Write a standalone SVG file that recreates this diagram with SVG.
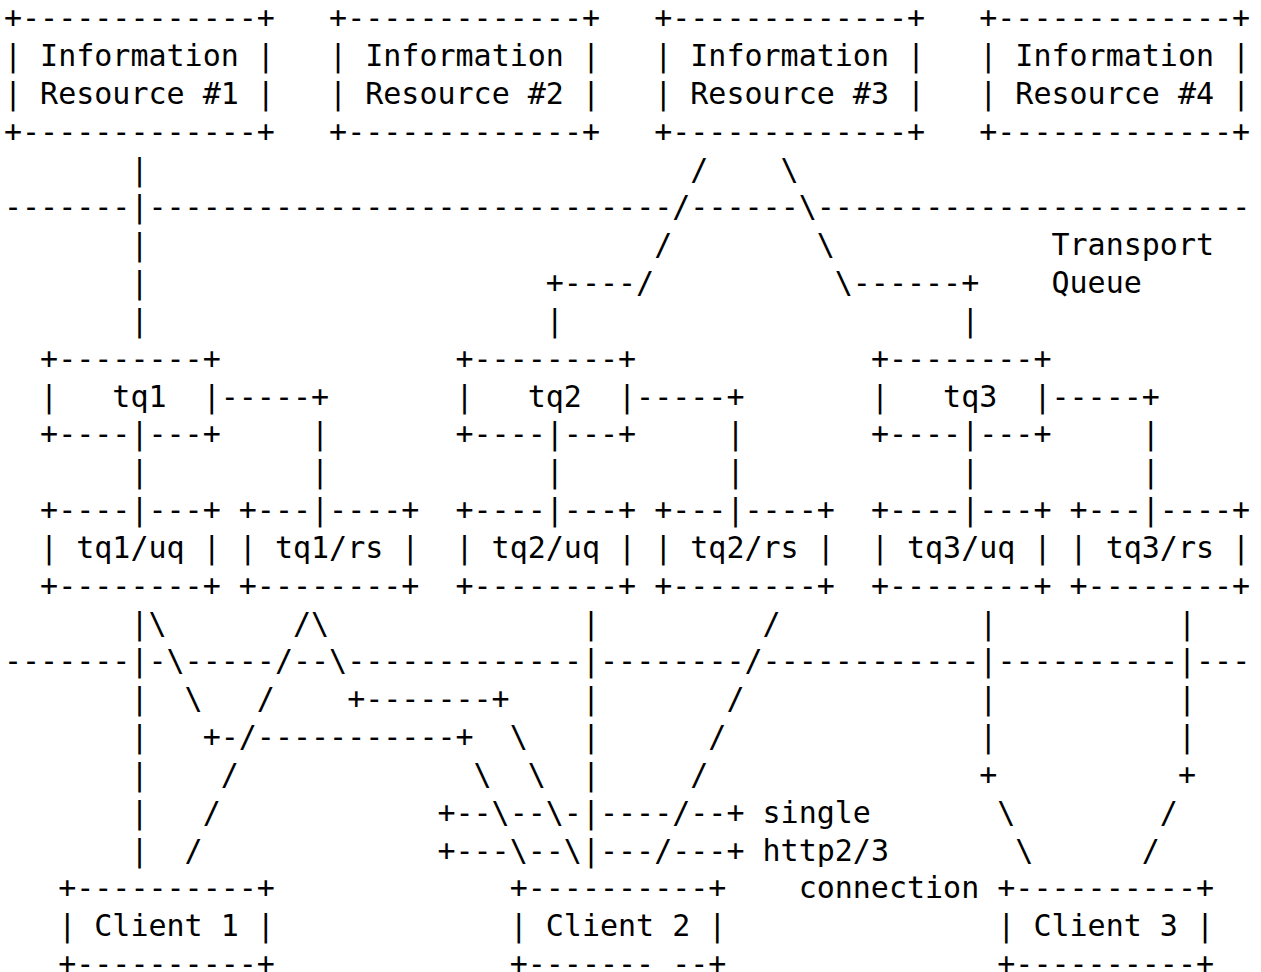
<svg xmlns="http://www.w3.org/2000/svg" width="1261" height="972" viewBox="0 0 1261 972" xml:space="preserve">
<style>
text { font-family: "DejaVu Sans Mono", "Liberation Mono", monospace; font-size: 30px; fill: #000; white-space: pre; }
</style>
<rect x="0" y="0" width="1261" height="972" fill="#fff"/>
<g id="res1">
<text x="4" y="28.2">+-------------+</text>
<text x="4" y="66.0">| Information |</text>
<text x="4" y="103.9">| Resource #1 |</text>
<text x="4" y="141.7">+-------------+</text>
</g>
<g id="res2">
<text x="329.08" y="28.2">+-------------+</text>
<text x="329.08" y="66.0">| Information |</text>
<text x="329.08" y="103.9">| Resource #2 |</text>
<text x="329.08" y="141.7">+-------------+</text>
</g>
<g id="res3">
<text x="654.16" y="28.2">+-------------+</text>
<text x="654.16" y="66.0">| Information |</text>
<text x="654.16" y="103.9">| Resource #3 |</text>
<text x="654.16" y="141.7">+-------------+</text>
</g>
<g id="res4">
<text x="979.24" y="28.2">+-------------+</text>
<text x="979.24" y="66.0">| Information |</text>
<text x="979.24" y="103.9">| Resource #4 |</text>
<text x="979.24" y="141.7">+-------------+</text>
</g>
<g id="transport-label">
<text x="1051.48" y="255.2">Transport</text>
<text x="1051.48" y="293.0">Queue</text>
</g>
<g id="tq1">
<text x="40.12" y="368.7">+--------+</text>
<text x="40.12" y="406.5">|   tq1  |</text>
<text x="40.12" y="444.3">+----|---+</text>
</g>
<g id="tq2">
<text x="455.5" y="368.7">+--------+</text>
<text x="455.5" y="406.5">|   tq2  |</text>
<text x="455.5" y="444.3">+----|---+</text>
</g>
<g id="tq3">
<text x="870.88" y="368.7">+--------+</text>
<text x="870.88" y="406.5">|   tq3  |</text>
<text x="870.88" y="444.3">+----|---+</text>
</g>
<g id="tq1-uq">
<text x="40.12" y="520.0">+----|---+</text>
<text x="40.12" y="557.8">| tq1/uq |</text>
<text x="40.12" y="595.7">+--------+</text>
</g>
<g id="tq1-rs">
<text x="238.78" y="520.0">+---|----+</text>
<text x="238.78" y="557.8">| tq1/rs |</text>
<text x="238.78" y="595.7">+--------+</text>
</g>
<g id="tq2-uq">
<text x="455.5" y="520.0">+----|---+</text>
<text x="455.5" y="557.8">| tq2/uq |</text>
<text x="455.5" y="595.7">+--------+</text>
</g>
<g id="tq2-rs">
<text x="654.16" y="520.0">+---|----+</text>
<text x="654.16" y="557.8">| tq2/rs |</text>
<text x="654.16" y="595.7">+--------+</text>
</g>
<g id="tq3-uq">
<text x="870.88" y="520.0">+----|---+</text>
<text x="870.88" y="557.8">| tq3/uq |</text>
<text x="870.88" y="595.7">+--------+</text>
</g>
<g id="tq3-rs">
<text x="1069.54" y="520.0">+---|----+</text>
<text x="1069.54" y="557.8">| tq3/rs |</text>
<text x="1069.54" y="595.7">+--------+</text>
</g>
<g id="connection-label">
<text x="762.52" y="822.6">single</text>
<text x="762.52" y="860.5">http2/3</text>
<text x="798.64" y="898.3">connection</text>
</g>
<g id="client1">
<text x="58.18" y="898.3">+----------+</text>
<text x="58.18" y="936.1">| Client 1 |</text>
<text x="58.18" y="973.9">+----------+</text>
</g>
<g id="client2">
<text x="509.68" y="898.3">+----------+</text>
<text x="509.68" y="936.1">| Client 2 |</text>
<text x="509.68" y="973.9">+------- --+</text>
</g>
<g id="client3">
<text x="997.3" y="898.3">+----------+</text>
<text x="997.3" y="936.1">| Client 3 |</text>
<text x="997.3" y="973.9">+----------+</text>
</g>
<g id="connectors">
<text x="130.42" y="179.5">|</text>
<text x="690.28" y="179.5">/</text>
<text x="780.58" y="179.5">\</text>
<text x="4" y="217.4">-------|-----------------------------/------\------------------------</text>
<text x="130.42" y="255.2">|</text>
<text x="654.16" y="255.2">/</text>
<text x="816.70" y="255.2">\</text>
<text x="130.42" y="293.0">|</text>
<text x="545.8" y="293.0">+----/</text>
<text x="834.76" y="293.0">\------+</text>
<text x="130.42" y="330.8">|</text>
<text x="545.8" y="330.8">|</text>
<text x="961.18" y="330.8">|</text>
<text x="220.72" y="406.5">-----+</text>
<text x="636.10" y="406.5">-----+</text>
<text x="1051.48" y="406.5">-----+</text>
<text x="311.02" y="444.3">|</text>
<text x="726.4" y="444.3">|</text>
<text x="1141.78" y="444.3">|</text>
<text x="130.42" y="482.2">|</text>
<text x="311.02" y="482.2">|</text>
<text x="545.8" y="482.2">|</text>
<text x="726.4" y="482.2">|</text>
<text x="961.18" y="482.2">|</text>
<text x="1141.78" y="482.2">|</text>
<text x="130.42" y="633.5">|\</text>
<text x="292.96" y="633.5">/\</text>
<text x="581.92" y="633.5">|</text>
<text x="762.52" y="633.5">/</text>
<text x="979.24" y="633.5">|</text>
<text x="1177.9" y="633.5">|</text>
<text x="4" y="671.3">-------|-\-----/--\-------------|--------/------------|----------|---</text>
<text x="130.42" y="709.1">|</text>
<text x="184.6" y="709.1">\</text>
<text x="256.84" y="709.1">/</text>
<text x="347.14" y="709.1">+-------+</text>
<text x="581.92" y="709.1">|</text>
<text x="726.4" y="709.1">/</text>
<text x="979.24" y="709.1">|</text>
<text x="1177.9" y="709.1">|</text>
<text x="130.42" y="747.0">|</text>
<text x="202.66" y="747.0">+-/-----------+</text>
<text x="509.68" y="747.0">\</text>
<text x="581.92" y="747.0">|</text>
<text x="708.34" y="747.0">/</text>
<text x="979.24" y="747.0">|</text>
<text x="1177.9" y="747.0">|</text>
<text x="130.42" y="784.8">|</text>
<text x="220.72" y="784.8">/</text>
<text x="473.56" y="784.8">\</text>
<text x="527.74" y="784.8">\</text>
<text x="581.92" y="784.8">|</text>
<text x="690.28" y="784.8">/</text>
<text x="979.24" y="784.8">+</text>
<text x="1177.9" y="784.8">+</text>
<text x="130.42" y="822.6">|</text>
<text x="202.66" y="822.6">/</text>
<text x="437.44" y="822.6">+--\--\-|----/--+</text>
<text x="997.3" y="822.6">\</text>
<text x="1159.84" y="822.6">/</text>
<text x="130.42" y="860.5">|</text>
<text x="184.6" y="860.5">/</text>
<text x="437.44" y="860.5">+---\--\|---/---+</text>
<text x="1015.36" y="860.5">\</text>
<text x="1141.78" y="860.5">/</text>
</g>
</svg>
